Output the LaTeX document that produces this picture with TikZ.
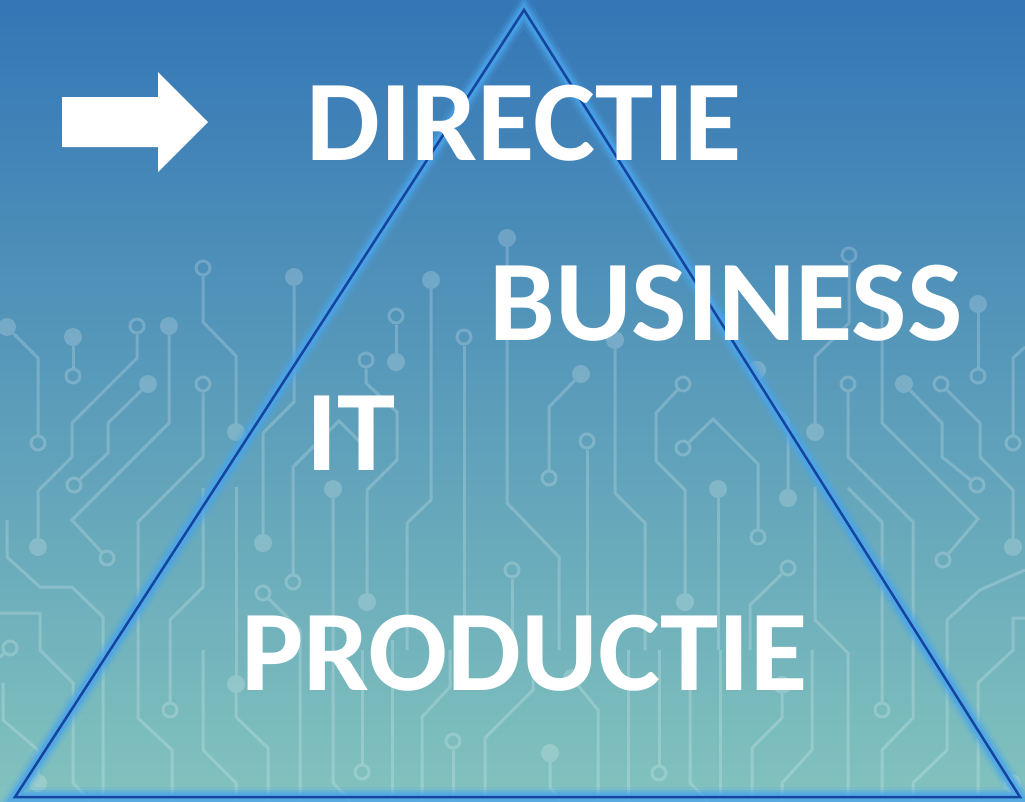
\documentclass[tikz,border=0pt]{standalone}
\usepackage{fontspec}
\setmainfont{Carlito}
\usetikzlibrary{calc}
\definecolor{bgTop}{RGB}{52,118,182}
\definecolor{bgBottom}{RGB}{130,195,190}
\definecolor{edgeBlue}{RGB}{20,70,160}
\definecolor{glowBlue}{RGB}{75,165,235}
\tikzset{
	wire/.style={white, opacity=.2, line width=3pt},
	pad/.style={circle, draw=white, draw opacity=.2, line width=3pt, minimum size=14pt, inner sep=0pt},
	via/.style={circle, fill=white, fill opacity=.2, minimum size=18pt, inner sep=0pt},
	word/.style={white, font=\bfseries\fontsize{115}{115}\selectfont, inner sep=0pt, anchor=base west, xscale=1.02},
	glow/.style={glowBlue, line join=miter},
}

\begin{document}
\begin{tikzpicture}[x=1pt, y=-1pt]
	\useasboundingbox (0,0) rectangle (1025,801);
	% background
	\shade[top color=bgTop, bottom color=bgBottom] (0,0) rectangle (1025,801);
	% circuit pads and vias
	\foreach \n/\x/\y in {p1/38/443, p2/73/376, p3/137/326, p4/74/485, p5/107/558, p6/203/268, p7/203/384, p8/396/316, p9/366/360, p10/464/337, p11/293/582, p12/263/593, p13/512/570, p14/549/478, p15/587/441, p16/683/384, p17/683/448, p18/849/255, p19/978/376, p20/848/384, p21/941/384, p22/977/485, p23/1013/443, p24/758/537, p25/788/568, p26/943/560, p27/362/772, p28/453/741, p29/659/773, p30/882/710, p31/170/710, p32/10/648} {
		\node[pad] (\n) at (\x,\y) {};
	};
	\foreach \n/\x/\y in {v1/7/327, v2/73/337, v3/38/547, v4/148/384, v5/169/326, v6/236/432, v7/294/277, v8/431/280, v9/396/362, v10/507/238, v11/333/489, v12/263/543, v13/367/602, v14/615/340, v15/581/374, v16/685/602, v17/718/489, v18/815/432, v19/978/304, v20/904/384, v21/757/370, v22/788/498, v23/1013/547, v24/550/753, v25/572/678, v26/782/685, v27/1012/783, v28/236/684, v29/38/783} {
		\node[via] (\n) at (\x,\y) {};
	};
	% circuit wires
	\draw[wire] (v1) -- (38,358) -- (p1);
	\draw[wire] (v2) -- (p2);
	\draw[wire] (p3) -- (137,358) -- (72,423) -- (72,457) -- (38,491) -- (v3);
	\draw[wire] (v4) -- (108,423) -- (108,453) -- (p4);
	\draw[wire] (v5) -- (169,423) -- (72,520) -- (p5);
	\draw[wire] (p6) -- (203,322) -- (236,356) -- (v6);
	\draw[wire] (p7) -- (203,457) -- (138,522) -- (138,718) -- (172,750) -- (172,801);
	\draw[wire] (v7) -- (294,402) -- (263,433) -- (v12);
	\draw[wire] (v8) -- (431,500) -- (407,523) -- (407,650);
	\draw[wire] (p8) -- (v9);
	\draw[wire] (p9) -- (366,383) -- (397,412) -- (397,460) -- (367,490) -- (v13);
	\draw[wire] (p10) -- (464,650);
	\draw[wire] (v10) -- (507,503) -- (559,557) -- (559,650);
	\draw[wire] (v11) -- (333,783) -- (350,801);
	\draw[wire] (p11) -- (293,467) -- (339,421) -- (370,452);
	\draw[wire] (p12) -- (300,630) -- (300,801);
	\draw[wire] (p13) -- (512,650);
	\draw[wire] (v15) -- (549,407) -- (p14);
	\draw[wire] (p15) -- (587,650);
	\draw[wire] (v14) -- (615,493) -- (645,523) -- (645,650);
	\draw[wire] (p16) -- (656,413) -- (656,461) -- (685,490) -- (v16);
	\draw[wire] (p17) -- (713,419) -- (758,464) -- (p24);
	\draw[wire] (p25) -- (750,605) -- (750,650);
	\draw[wire] (v17) -- (718,650);
	\draw[wire] (v21) -- (757,387) -- (788,420) -- (v22);
	\draw[wire] (p18) -- (849,323) -- (815,357) -- (v18);
	\draw[wire] (v19) -- (p19);
	\draw[wire] (p20) -- (848,457) -- (913,522) -- (913,718) -- (882,750) -- (882,801);
	\draw[wire] (v20) -- (942,423) -- (942,457) -- (p22);
	\draw[wire] (p21) -- (980,423) -- (980,457) -- (1013,490) -- (v23);
	\draw[wire] (882,300) -- (882,423) -- (978,519) -- (p26);
	\draw[wire] (p23) -- (1013,358) -- (1025,347);
	\draw[wire] (815,487) -- (815,620) -- (848,653) -- (848,801);
	\draw[wire] (848,488) -- (882,522) -- (p30);
	\draw[wire] (1025,570) -- (980,590) -- (947,620) -- (947,750) -- (913,783) -- (913,801);
	\draw[wire] (1025,618) -- (1013,618) -- (1013,650) -- (978,683) -- (978,801);
	\draw[wire] (p27) -- (362,650);
	\draw[wire] (392,640) -- (392,801);
	\draw[wire] (422,801) -- (422,717) -- (450,687) -- (450,650);
	\draw[wire] (p28) -- (453,801);
	\draw[wire] (485,801) -- (485,738) -- (533,690) -- (533,650);
	\draw[wire] (v24) -- (550,787) -- (560,801);
	\draw[wire] (v25) -- (598,710) -- (598,801);
	\draw[wire] (628,650) -- (628,801);
	\draw[wire] (p29) -- (659,650);
	\draw[wire] (690,650) -- (690,783) -- (708,801);
	\draw[wire] (720,650) -- (720,801);
	\draw[wire] (v26) -- (782,718) -- (752,748) -- (752,801);
	\draw[wire] (812,650) -- (812,750) -- (782,783) -- (782,801);
	\draw[wire] (0,613) -- (40,613) -- (40,650) -- (73,683) -- (73,783) -- (90,801);
	\draw[wire] (p32) -- (0,657);
	\draw[wire] (7,520) -- (7,557) -- (40,587) -- (72,587) -- (103,617) -- (103,801);
	\draw[wire] (3,683) -- (3,720) -- (38,750) -- (v29);
	\draw[wire] (203,488) -- (203,587) -- (170,620) -- (p31);
	\draw[wire] (203,650) -- (203,750) -- (236,783) -- (236,801);
	\draw[wire] (236,487) -- (v28);
	\draw[wire] (v28) -- (236,717) -- (268,748) -- (268,801);
	% triangle with glow
	\coordinate (apex) at (524,10);
	\coordinate (left) at (15,797);
	\coordinate (right) at (1020,797);
	\draw[glow, line width=20pt, opacity=.18] (apex) -- (right) -- (left) -- cycle;
	\draw[glow, line width=14pt, opacity=.35] (apex) -- (right) -- (left) -- cycle;
	\draw[glow, line width=9pt, opacity=.65] (apex) -- (right) -- (left) -- cycle;
	\draw[edgeBlue, line width=2.5pt, line join=miter] (apex) -- (right) -- (left) -- cycle;
	% words
	\node[word] (directie) at (306,160) {DIRECTIE};
	\node[word] (business) at (489,340) {BUSINESS};
	\node[word] (it) at (306,470) {IT};
	\node[word] (productie) at (241,690) {PRODUCTIE};
	% pointer arrow
	\fill[white] (62,97) -- (158,97) -- (158,72) -- (208,122) -- (158,172) -- (158,147) -- (62,147) -- cycle;
\end{tikzpicture}
\end{document}
